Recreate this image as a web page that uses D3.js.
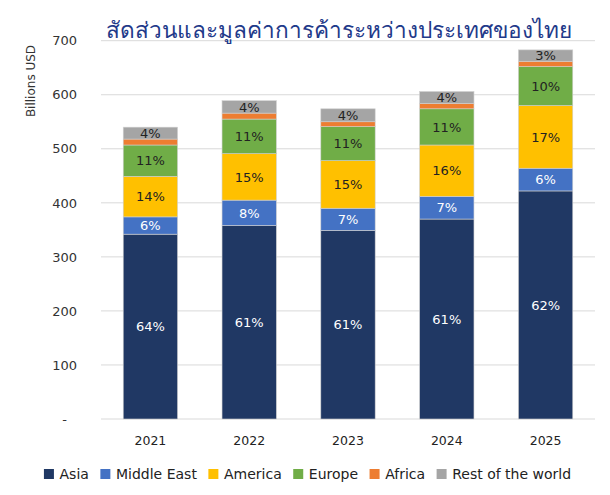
<!DOCTYPE html>
<html>
<head>
<meta charset="utf-8">
<script src="https://cdn.jsdelivr.net/npm/d3@7"></script>
<style>
  body { margin: 0; background: #fff; }
  text { font-family: "DejaVu Sans", sans-serif; }
</style>
</head>
<body>
<svg id="chart" width="610" height="495"></svg>
<script>
// values (billions USD)
const years = ['2021', '2022', '2023', '2024', '2025'];
const regions = ['Asia', 'Middle East', 'America', 'Europe', 'Africa', 'Rest of the world'];
const asia = [342, 358, 349, 370, 422];
const middleEast = [32, 47, 41, 42, 42];
const america = [75, 86, 88, 95, 116];
const europe = [58, 64, 63, 67, 72];
const africa = [11, 11, 9, 10, 10];
const rest = [22, 23, 24, 22, 21];
// printed shares (%), africa has none
const asiaPct = [64, 61, 61, 61, 62];
const middleEastPct = [6, 8, 7, 7, 6];
const americaPct = [14, 15, 15, 16, 17];
const europePct = [11, 11, 11, 11, 10];
const africaPct = [null, null, null, null, null];
const restPct = [4, 4, 4, 4, 3];
const yTicks = [0, 100, 200, 300, 400, 500, 600, 700];

const colors = ['#203864', '#4472C4', '#FFC000', '#70AD47', '#ED7D31', '#A5A5A5'];
const labelColors = ['#fff', '#fff', '#222', '#222', '#222', '#222'];
const series = [asia, middleEast, america, europe, africa, rest];
const pcts = [asiaPct, middleEastPct, americaPct, europePct, africaPct, restPct];

let table = years.map((yr, i) => {
    let row = { year: yr };
    regions.forEach((r, k) => { row[r] = series[k][i]; });
    return row;
});
let stacked = d3.stack().keys(regions)(table);

let svg = d3.select('#chart');
let plotLeft = 101, plotRight = 595, plotTop = 40.7, plotBottom = 419;

let x = d3.scaleBand().domain(years).range([plotLeft, plotRight]).paddingInner(0.45).paddingOuter(0.225);
let y = d3.scaleLinear().domain([0, 700]).range([plotBottom, plotTop]);

// gridlines
svg.append('g').selectAll('line').data(yTicks).join('line')
    .attr('x1', plotLeft).attr('x2', plotRight)
    .attr('y1', d => y(d)).attr('y2', d => y(d))
    .attr('stroke', '#d9d9d9').attr('stroke-width', 1);

// y axis labels
let yAxis = d3.axisLeft(y).tickValues(yTicks).tickSize(0).tickPadding(0)
    .tickFormat(d => d == 0 ? '-' : d);
let ya = svg.append('g').attr('transform', 'translate(77,0)').call(yAxis);
ya.select('.domain').remove();
ya.selectAll('text').attr('font-size', 13).attr('fill', '#333')
    .attr('font-family', '"DejaVu Sans", sans-serif')
    .attr('dx', d => d == 0 ? -10 : 0);

svg.append('text')
    .attr('transform', 'translate(35,81) rotate(-90)')
    .attr('text-anchor', 'middle').attr('font-size', 12).attr('fill', '#333')
    .text('Billions USD');

// bars
let groups = svg.append('g').selectAll('g').data(stacked).join('g')
    .attr('fill', (d, i) => colors[i]);
groups.selectAll('rect').data(d => d).join('rect')
    .attr('x', d => x(d.data.year))
    .attr('width', x.bandwidth())
    .attr('y', d => y(d[1]))
    .attr('height', d => y(d[0]) - y(d[1]))
    .attr('stroke', '#d0d0d0').attr('stroke-width', 0.6);

// share labels
stacked.forEach((s, k) => {
    svg.append('g').selectAll('text').data(s).join('text')
        .filter((d, i) => pcts[k][i] != null)
        .attr('x', d => x(d.data.year) + x.bandwidth() / 2)
        .attr('y', d => (y(d[0]) + y(d[1])) / 2)
        .attr('dy', '0.36em')
        .attr('text-anchor', 'middle').attr('font-size', 13)
        .attr('fill', labelColors[k])
        .text(d => pcts[k][years.indexOf(d.data.year)] + '%');
});

// x axis labels
let xAxis = d3.axisBottom(x).tickSize(0).tickPadding(0);
let xa = svg.append('g').attr('transform', 'translate(0,436)').call(xAxis);
xa.select('.domain').remove();
xa.selectAll('text').attr('font-size', 12.5).attr('fill', '#222')
    .attr('font-family', '"DejaVu Sans", sans-serif');

// title, sized to span the same width as the original
let title = svg.append('text')
    .attr('x', 339).attr('y', 37.5)
    .attr('text-anchor', 'middle')
    .attr('font-size', 22).attr('font-weight', 500).attr('fill', '#1F3A8A')
    .attr('font-family', '"Noto Sans Thai", "Noto Sans", sans-serif')
    .text('สัดส่วนและมูลค่าการค้าระหว่างประเทศของไทย');
let tw = title.node().getComputedTextLength();
title.attr('font-size', 22 * 465 / tw);

// legend
let legend = svg.append('g');
let cursor = 0;
regions.forEach((r, k) => {
    let item = legend.append('g').attr('transform', 'translate(' + cursor + ',0)');
    item.append('rect').attr('x', 0).attr('y', -5).attr('width', 10).attr('height', 10)
        .attr('fill', colors[k]);
    let t = item.append('text').attr('x', 15.6).attr('dy', '0.36em')
        .attr('font-size', 14).attr('fill', '#222').text(r);
    cursor += 15.6 + t.node().getComputedTextLength() + 11.5;
});
let legendWidth = cursor - 11.5;
legend.attr('transform', 'translate(' + (307.5 - legendWidth / 2) + ',474)');
</script>
</body>
</html>
